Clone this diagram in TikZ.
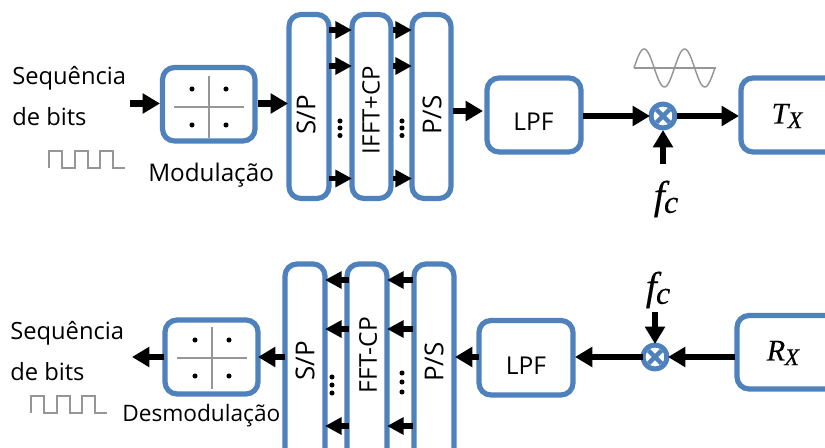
\documentclass[tikz,border=0pt]{standalone}
\usepackage{fontspec}
\setmainfont{Open Sans}
\newfontfamily\mathish{Liberation Serif}[ItalicFeatures={FakeBold=0.25}]
\usetikzlibrary{arrows.meta}
\definecolor{bl}{RGB}{79,129,189}
\definecolor{gr}{RGB}{150,150,150}
\newcommand{\fsz}[1]{\fontsize{#1}{#1}\selectfont}
\newcommand{\subsc}[5]{{\mathish\itshape\fsz{#3}#1\kern-0.02em\raisebox{-#5pt}{\fsz{#4}#2}}}
\tikzset{
 x=0.75pt,y=-0.75pt,
 blk/.style={draw=bl,line width=3.9pt,rounded corners=9pt,fill=white},
 arr/.style={line width=4.8pt,draw=black,-{Triangle[length=13pt,width=14.5pt]}},
 sarr/.style={line width=4.4pt,draw=black,-{Triangle[length=12.5pt,width=12.5pt]}},
 lab/.style={inner sep=0pt,text=black},
 vlab/.style={inner sep=0pt,rotate=90},
 thin gray/.style={draw=gr,line width=1.1pt},
}
\newcommand{\blockrect}[5]{\node[inner sep=0pt] (#1) at ({(#2+#4)/2},{(#3+#5)/2}) {};
 \draw[blk] (#2,#3) rectangle (#4,#5);}
\newcommand{\constell}[2]{%
 \draw[thin gray] (#1-35,#2) -- (#1+35,#2);
 \draw[thin gray] (#1,#2-31) -- (#1,#2+31);
 \foreach \dx in {-17,17} \foreach \dy in {-18,18} \fill (#1+\dx,#2+\dy) circle (1.9pt);}
\newcommand{\pulses}[2]{%
 \draw[thin gray] (#1,#2) -- (#1,#2-17) -- (#1+13,#2-17) -- (#1+13,#2) -- (#1+26,#2) -- (#1+26,#2-17) -- (#1+39,#2-17) -- (#1+39,#2) -- (#1+51,#2) -- (#1+51,#2-17) -- (#1+64,#2-17) -- (#1+64,#2) -- (#1+76,#2);}
\newcommand{\mixer}[3]{%
 \fill[bl] (#2,#3) circle (10.8pt);
 \node[inner sep=0pt,minimum size=0pt] (#1) at (#2,#3) {};
 \begin{scope}
 \clip (#2,#3) circle (7pt);
 \fill[white] (#2,#3) circle (7pt);
 \draw[bl,line width=3.4pt] (#2-10,#3-10) -- (#2+10,#3+10) (#2-10,#3+10) -- (#2+10,#3-10);
 \end{scope}}
\begin{document}
\begin{tikzpicture}
\useasboundingbox (0,0) rectangle (825,448);
\clip (0,0) rectangle (825,448);
% ---- top row
\blockrect{mod}{162.5}{67.5}{255}{141}
\constell{209}{107}
\blockrect{sp}{289}{14.5}{329}{198.5}
\blockrect{ifft}{352}{14.5}{391}{198.5}
\blockrect{ps}{412}{14.5}{451}{198.5}
\blockrect{lpf}{487}{78}{581}{152}
\blockrect{tx}{741}{78}{860}{152}
\node[lab,font=\fsz{18.4}] (lpfl) at (533.5,122) {LPF};
\node[vlab,font=\fsz{19.5}] (spl) at (306,115) {S/P};
\node[vlab,font=\fsz{18}] (ifl) at (371,110) {IFFT+CP};
\node[vlab,font=\fsz{19.5}] (psl) at (432,115) {P/S};
\node[lab] (txl) at (787,116) {\subsc{T}{X}{22.5}{18}{3.5}};
\node[lab,anchor=west,font=\fsz{17.8}] (seq1) at (12,78) {Sequência};
\node[lab,anchor=west,font=\fsz{17.8}] (seq2) at (12,117) {de bits};
\node[lab,anchor=west,font=\fsz{18.2}] (modl) at (148,175) {Modulação};
\pulses{49}{168}
\mixer{mx}{663}{116}
% arrows top
\coordinate (a0) at (130,103.5);
\draw[arr] (a0) -- (160,103.5);
\draw[arr] (258,103.5) -- (288,103.5);
\foreach \y in {30,66,178.5} {\draw[sarr] (329,\y) -- (352,\y); \draw[sarr] (393,\y) -- (412,\y);}
\draw[arr] (453,111) -- (483,111);
\draw[arr] (583,116) -- (650,116);
\draw[arr] (677,116) -- (739,116);
\coordinate (fc1) at (663,164);
\draw[arr] (fc1) -- (663,130);
\node[lab] (fcl) at (666,199) {\subsc{f}{c}{30}{24}{3}};
\foreach \y in {121,128,135.5} {\fill (340,\y) circle (1.9pt); \fill (402,\y) circle (1.9pt);}
% sine
\draw[thin gray] (634,68) -- (716,68);
\draw[thin gray,domain=0:81,samples=80,smooth] plot ({634+\x},{68-19*sin(\x*8.9)});
% ---- bottom row
\blockrect{dem}{165}{320}{258}{394}
\constell{212}{358}
\blockrect{sp2}{285}{264}{325}{460}
\blockrect{fft}{347}{264}{387}{460}
\blockrect{ps2}{414}{264}{454}{460}
\blockrect{lpf2}{479}{320.5}{573}{395}
\blockrect{rx}{737}{315.5}{860}{389}
\node[lab,font=\fsz{18.4}] (lpfl2) at (526,366) {LPF};
\node[vlab,font=\fsz{19.5}] (spl2) at (305,361) {S/P};
\node[vlab,font=\fsz{18.4}] (ffl) at (368,355) {FFT-CP};
\node[vlab,font=\fsz{19.5}] (psl2) at (434,362) {P/S};
\node[lab] (rxl) at (783,353) {\subsc{R}{X}{22.5}{18}{3.5}};
\node[lab,anchor=west,font=\fsz{17.8}] (seq3) at (10,333) {Sequência};
\node[lab,anchor=west,font=\fsz{17.8}] (seq4) at (10,372) {de bits};
\node[lab,anchor=west,font=\fsz{17}] (demd) at (122,416) {Desmodulação};
\pulses{31}{413}
\mixer{mx2}{655}{357}
\draw[arr] (164,357) -- (132,357);
\draw[arr] (285,357) -- (258,357);
\foreach \y in {280,329,426} {\draw[sarr] (349,\y) -- (325,\y); \draw[sarr] (413,\y) -- (387,\y);}
\draw[arr] (479,357) -- (455,357);
\draw[arr] (643,357) -- (575,357);
\draw[arr] (735,357) -- (668,357);
\coordinate (fc2) at (655,312);
\draw[arr] (fc2) -- (655,344);
\node[lab] (fcl2) at (658,290) {\subsc{f}{c}{30}{24}{3}};
\foreach \y in {377,385,393} {\fill (332,\y) circle (1.9pt);}
\foreach \y in {373,382,392} {\fill (402,\y) circle (1.9pt);}
\end{tikzpicture}
\end{document}
